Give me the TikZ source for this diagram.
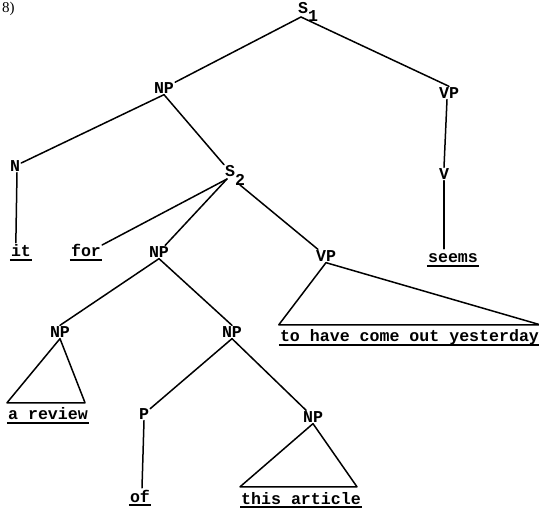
\documentclass[tikz,border=0pt]{standalone}
\usepackage{fontspec}
\setmainfont{Liberation Mono}
\newfontfamily\numfont{Liberation Serif}
\begin{document}
\begin{tikzpicture}[x=1pt,y=-1pt,
  cat/.style={font=\bfseries\fontsize{16.6}{18}\selectfont, inner sep=1pt},
  sub/.style={font=\bfseries\fontsize{16.6}{18}\selectfont, inner sep=1pt, anchor=base west},
  leaf/.style={font=\bfseries\fontsize{16.6}{18}\selectfont, anchor=base, inner xsep=1pt, inner ysep=3pt, text height=11pt, text depth=4pt},
  br/.style={line width=1.5pt, line cap=round},
  ul/.style={line width=1.5pt}]
\useasboundingbox (0,0) rectangle (539,513);

% title fragment
\node[anchor=west, font=\numfont\fontsize{15}{18}\selectfont, inner sep=0] (num) at (2,8.5) {8)};

% category nodes
\node[sub] (S1) at (297,14) {S\raisebox{-8pt}{1}};
\node[cat] (NP1) at (164,88) {NP};
\node[cat] (VP1) at (449,93) {VP};
\node[cat] (V) at (444,174) {V};
\node[cat] (N) at (15,166) {N};
\node[sub] (S2) at (224,177) {S\raisebox{-9pt}{2}};
\node[cat] (NP2) at (159,252) {NP};
\node[cat] (VP2) at (326,256) {VP};
\node[cat] (NP3) at (60,332) {NP};
\node[cat] (NP4) at (232,332) {NP};
\node[cat] (P) at (144,414) {P};
\node[cat] (NP5) at (313,417) {NP};

% leaves
\node[leaf] (it) at (21,257) {it};
\node[leaf] (for) at (86,257) {for};
\node[leaf] (seems) at (453,263) {seems};
\node[leaf] (tahcoy) at (409.5,342) {to have come out yesterday};
\node[leaf] (arev) at (48,420) {a review};
\node[leaf] (of) at (140,502) {of};
\node[leaf] (thisart) at (301,504) {this article};

% branches
\draw[br] ([xshift=4pt,yshift=-3pt]S1.base west) -- (NP1);
\draw[br] ([xshift=4pt,yshift=-3pt]S1.base west) -- (VP1.north);
\draw[br] (NP1.south) -- (N);
\draw[br] (NP1.south) -- (S2.north west);
\draw[br] ([xshift=2pt]N.south) -- ([xshift=6pt]it.north west);
\draw[br] ([xshift=-2pt]VP1.south) -- (V.north);
\draw[br] (V.south) -- (V.south |- seems.north);
\draw[br] ([xshift=3pt,yshift=-2pt]S2.base west) -- (for);
\draw[br] ([xshift=3pt,yshift=-2pt]S2.base west) -- (NP2);
\draw[br] ([xshift=16pt,yshift=-8pt]S2.base west) -- (VP2);
\draw[br] (NP2.south) -- (NP3.north);
\draw[br] (NP2.south) -- (NP4.north);
\draw[br] (NP4.south) -- (P);
\draw[br] (NP4.south) -- (NP5);
\draw[br] (P.south) -- ([xshift=2pt]of.north);

% triangles
\draw[br, line join=round] (VP2.south) -- ([yshift=3pt]tahcoy.north west) -- ([yshift=3pt]tahcoy.north east) -- cycle;
\draw[br, line join=round] (NP3.south) -- ([yshift=3pt]arev.north west) -- ([yshift=3pt,xshift=-4pt]arev.north east) -- cycle;
\draw[br, line join=round] (NP5.south) -- ([yshift=3pt]thisart.north west) -- ([yshift=3pt,xshift=-5pt]thisart.north east) -- cycle;

% underlines
\foreach \n in {it,for,seems,tahcoy,arev,of,thisart}
  \draw[ul] ([yshift=-3pt]\n.base west) -- ([yshift=-3pt]\n.base east);
\end{tikzpicture}
\end{document}
